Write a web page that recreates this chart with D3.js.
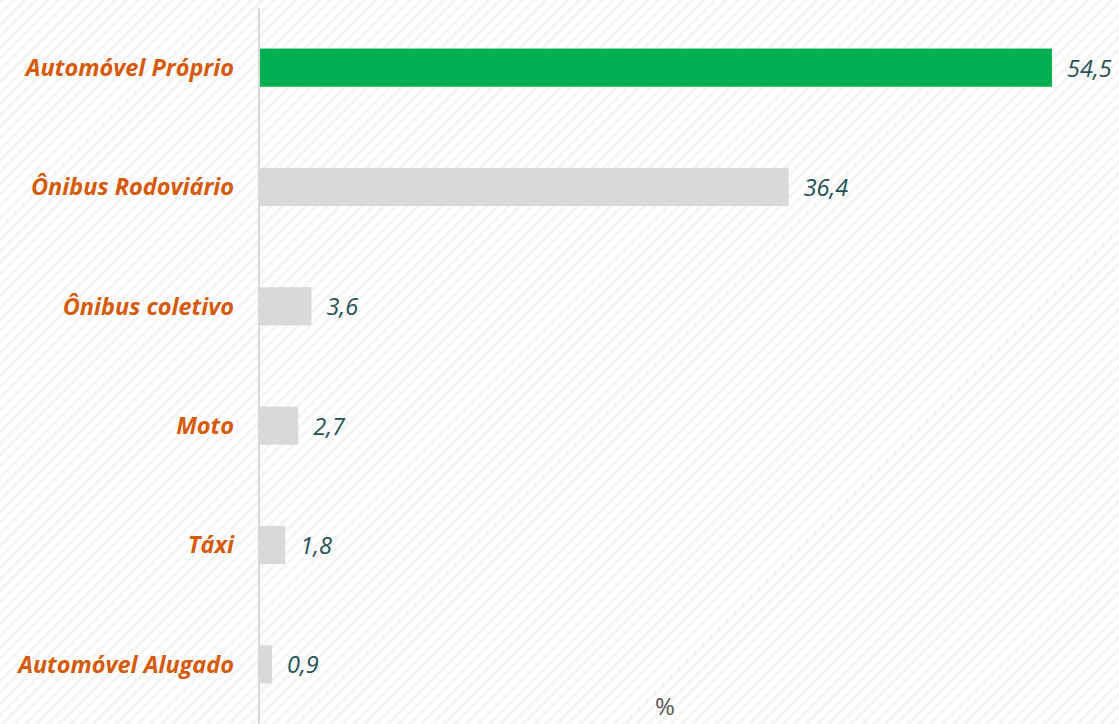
<html>
  <head>
    <meta charset="utf-8">
    <script src="https://d3js.org/d3.v7.min.js"></script>
    <style>
      body { margin: 0; background: #fff; }
    </style>
  </head>
  <body>
    <div id="container"></div>
    <script>
      // data
      var categories = ["Automóvel Próprio", "Ônibus Rodoviário", "Ônibus coletivo", "Moto", "Táxi", "Automóvel Alugado"];
      var values = [54.5, 36.4, 3.6, 2.7, 1.8, 0.9];
      var valueLabels = ["54,5", "36,4", "3,6", "2,7", "1,8", "0,9"];
      var unitLabel = "%";

      var width = 1119, height = 724;
      var left = 259;
      var font = "'Open Sans', sans-serif";

      var svg = d3.select("#container").append("svg")
        .attr("width", width)
        .attr("height", height);

      // faint diagonal stripes in the background
      var defs = svg.append("defs");
      var pat = defs.append("pattern")
        .attr("id", "stripes")
        .attr("patternUnits", "userSpaceOnUse")
        .attr("width", 8).attr("height", 8)
        .attr("patternTransform", "rotate(45)");
      pat.append("rect").attr("width", 8).attr("height", 8).attr("fill", "#ffffff");
      pat.append("rect").attr("width", 3.5).attr("height", 8).attr("fill", "#f5f5f5");

      svg.append("rect").attr("width", width).attr("height", height).attr("fill", "url(#stripes)");

      var x = d3.scaleLinear().domain([0, 54.5]).range([left, 1052]);
      var y = d3.scaleBand().domain(categories).range([8, 724]).paddingInner(0.68).paddingOuter(0.34);

      var rows = categories.map(function(c, i) { return { cat: c, v: values[i], lab: valueLabels[i], i: i }; });

      svg.selectAll("rect.bar")
        .data(rows)
        .enter().append("rect")
        .attr("class", "bar")
        .attr("x", x(0))
        .attr("y", function(d) { return y(d.cat); })
        .attr("width", function(d) { return x(d.v) - x(0); })
        .attr("height", y.bandwidth())
        .attr("fill", function(d) { return d.i === 0 ? "#00b050" : "#d9d9d9"; });

      // axis line
      svg.append("line")
        .attr("x1", left).attr("x2", left)
        .attr("y1", 8).attr("y2", height)
        .attr("stroke", "#d9d9d9").attr("stroke-width", 2);

      svg.selectAll("text.cat")
        .data(rows)
        .enter().append("text")
        .attr("class", "cat")
        .attr("x", 234)
        .attr("y", function(d) { return y(d.cat) + y.bandwidth() / 2; })
        .attr("dy", "0.35em")
        .attr("text-anchor", "end")
        .attr("font-family", font)
        .attr("font-size", 23.5)
        .attr("font-weight", "bold")
        .attr("font-style", "italic")
        .attr("fill", "#d55a0a")
        .text(function(d) { return d.cat; });

      svg.selectAll("text.val")
        .data(rows)
        .enter().append("text")
        .attr("class", "val")
        .attr("x", function(d) { return x(d.v) + 15; })
        .attr("y", function(d) { return y(d.cat) + y.bandwidth() / 2; })
        .attr("dy", "0.38em")
        .attr("font-family", font)
        .attr("font-size", 23.5)
        .attr("font-style", "italic")
        .attr("fill", "#1f5256")
        .text(function(d) { return d.lab; });

      svg.append("text")
        .attr("x", 665)
        .attr("y", 715)
        .attr("text-anchor", "middle")
        .attr("font-family", font)
        .attr("font-size", 24)
        .attr("fill", "#595959")
        .text(unitLabel);
    </script>
  </body>
</html>
